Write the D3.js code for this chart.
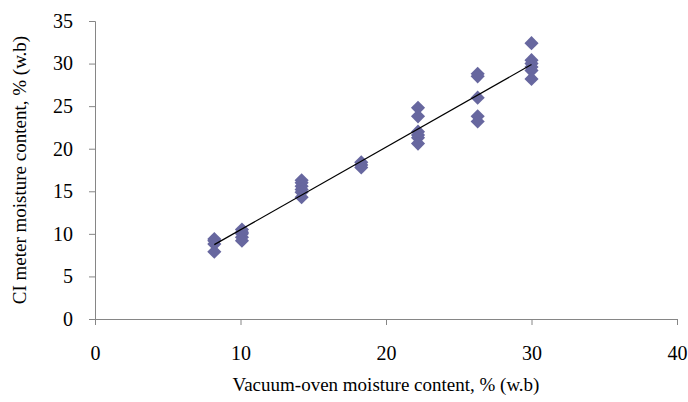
<!DOCTYPE html>
<html>
<head>
<meta charset="utf-8">
<script src="https://cdn.jsdelivr.net/npm/d3@7"></script>
<style>
  body { margin: 0; background: #fff; }
  text { font-family: "Liberation Serif", "Times New Roman", serif; fill: #000; }
</style>
</head>
<body>
<svg id="chart" width="688" height="402"></svg>
<script>
// vacuum-oven reference values (x) and CI meter readings (y), one group per sample level
const ovenLevels = [8.2, 10.1, 14.2, 18.3, 22.2, 26.3, 30.0];
const meterReadings = [
  [9.4, 9.2, 8.8, 7.9],
  [10.5, 10.2, 10.0, 9.6, 9.2],
  [16.3, 16.0, 15.6, 15.2, 14.9, 14.3],
  [18.4, 18.1, 17.8],
  [24.8, 23.8, 22.0, 21.6, 21.3, 20.6],
  [28.8, 28.5, 26.0, 23.8, 23.2],
  [32.4, 30.4, 30.0, 29.6, 29.2, 28.2]
];
const xTicks = [0, 10, 20, 30, 40];
const yTicks = [0, 5, 10, 15, 20, 25, 30, 35];

const points = ovenLevels.flatMap((x, i) => meterReadings[i].map(y => ({ x, y })));

const svg = d3.select("#chart");
const x = d3.scaleLinear().domain([0, 40]).range([95, 677]);
const y = d3.scaleLinear().domain([0, 35]).range([319, 21]);

const axisColor = "#868686";

// y axis
const gy = svg.append("g")
  .attr("transform", `translate(${x(0)},0)`)
  .call(d3.axisLeft(y).tickValues(yTicks).tickSize(6).tickPadding(16));
gy.select(".domain").attr("stroke", axisColor);
gy.selectAll(".tick line").attr("stroke", axisColor);
gy.selectAll(".tick text").attr("font-size", 20).attr("font-family", "Liberation Serif");

// x axis
const gx = svg.append("g")
  .attr("transform", `translate(0,${y(0)})`)
  .call(d3.axisBottom(x).tickValues(xTicks).tickSize(6).tickPadding(21));
gx.select(".domain").attr("stroke", axisColor);
gx.selectAll(".tick line").attr("stroke", axisColor);
gx.selectAll(".tick text").attr("font-size", 20).attr("font-family", "Liberation Serif");

// points
const diamond = d3.symbol().type(d3.symbolSquare).size(100);
svg.append("g")
  .selectAll("path")
  .data(points)
  .join("path")
  .attr("d", diamond)
  .attr("transform", d => `translate(${x(d.x)},${y(d.y)}) rotate(45)`)
  .attr("fill", "#67679F");

// least-squares trend line across the sampled range
const mx = d3.mean(points, d => d.x), my = d3.mean(points, d => d.y);
const slope = d3.sum(points, d => (d.x - mx) * (d.y - my)) / d3.sum(points, d => (d.x - mx) ** 2);
const icpt = my - slope * mx;
const [x0, x1] = d3.extent(ovenLevels);
svg.append("line")
  .attr("x1", x(x0)).attr("y1", y(icpt + slope * x0))
  .attr("x2", x(x1)).attr("y2", y(icpt + slope * x1))
  .attr("stroke", "#000").attr("stroke-width", 1.2);

// axis titles
svg.append("text")
  .attr("x", 386).attr("y", 391)
  .attr("text-anchor", "middle")
  .attr("font-size", 19)
  .text("Vacuum-oven moisture content, % (w.b)");

svg.append("text")
  .attr("transform", "translate(26,170) rotate(-90)")
  .attr("text-anchor", "middle")
  .attr("font-size", 19)
  .text("CI meter moisture content, % (w.b)");
</script>
</body>
</html>
